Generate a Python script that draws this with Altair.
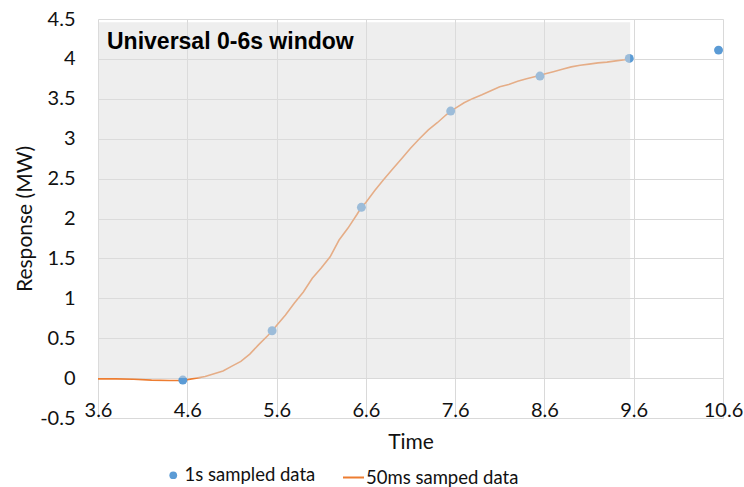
import altair as alt
import pandas as pd

# 1 s sampled points
sec_time = [4.55, 5.55, 6.55, 7.55, 8.55, 9.55, 10.55]
sec_resp = [-0.025, 0.593, 2.14, 3.346, 3.785, 4.006, 4.11]

# 50 ms sampled curve
ms_time = [3.6, 3.8, 4.0, 4.2, 4.4, 4.55, 4.7, 4.8, 4.9, 5.0, 5.1, 5.2, 5.3, 5.4,
           5.5, 5.55, 5.6, 5.7, 5.8, 5.9, 6.0, 6.1, 6.2, 6.3, 6.4, 6.5, 6.55, 6.6,
           6.7, 6.8, 6.9, 7.0, 7.1, 7.2, 7.3, 7.4, 7.5, 7.55, 7.6, 7.7, 7.8, 7.9,
           8.0, 8.1, 8.2, 8.3, 8.4, 8.5, 8.55, 8.6, 8.7, 8.8, 8.9, 9.0, 9.1, 9.2,
           9.3, 9.4, 9.5, 9.55]
ms_resp = [-0.01, -0.01, -0.015, -0.025, -0.03, -0.03, 0.0, 0.02, 0.055, 0.09, 0.15,
           0.21, 0.30, 0.42, 0.53, 0.59, 0.66, 0.79, 0.94, 1.08, 1.25, 1.38, 1.52,
           1.73, 1.88, 2.05, 2.14, 2.20, 2.35, 2.49, 2.62, 2.75, 2.88, 3.00, 3.11,
           3.20, 3.30, 3.346, 3.38, 3.45, 3.505, 3.55, 3.60, 3.65, 3.68, 3.72, 3.75,
           3.78, 3.79, 3.81, 3.84, 3.87, 3.90, 3.92, 3.935, 3.95, 3.96, 3.975, 3.99,
           4.0]

# shaded window
window_start = [3.6]
window_end = [9.56]
window_low = [0.0]
window_high = [4.46]

x_ticks = [3.6, 4.6, 5.6, 6.6, 7.6, 8.6, 9.6, 10.6]
y_ticks = [-0.5, 0, 0.5, 1, 1.5, 2, 2.5, 3, 3.5, 4, 4.5]

series_points = "1s sampled data"
series_line = "50ms samped data"
title_text = "Universal 0-6s window"

pts = pd.DataFrame({"t": sec_time, "r": sec_resp, "s": series_points})
crv = pd.DataFrame({"t": ms_time, "r": ms_resp, "s": series_line})
win = pd.DataFrame({"x": window_start, "x2": window_end, "y": window_low, "y2": window_high})

FONT = "Lato"
TXT = "#111111"

x_enc = alt.X(
    "t:Q",
    scale=alt.Scale(domain=[3.6, 10.6], nice=False, zero=False),
    axis=alt.Axis(
        values=x_ticks, tickCount=20, title="Time", grid=True, domain=False, ticks=False,
        labelPadding=-2, labelBaseline="alphabetic", labelFontSize=20,
        labelFont=FONT, labelColor=TXT, titleFont=FONT, titleFontSize=21,
        titleFontWeight="normal", titleColor=TXT, titleY=30,
        titleBaseline="alphabetic", labelExpr="'' + datum.value",
        gridColor="#D9D9D9", labelOverlap=False, labelFlush=False,
    ),
)
y_enc = alt.Y(
    "r:Q",
    scale=alt.Scale(domain=[-0.5, 4.5], nice=False, zero=False),
    axis=alt.Axis(
        values=y_ticks, tickCount=20, title="Response (MW)", grid=True, domain=False,
        ticks=False, labelPadding=23, labelFontSize=20, labelFont=FONT, labelColor=TXT,
        titleFont=FONT, titleFontSize=21, titleFontWeight="normal", titleColor=TXT,
        titleAngle=270, titleX=-73, titleY=199.5, titleBaseline="middle",
        titleAlign="center", labelExpr="'' + datum.value",
        gridColor="#D9D9D9", labelOverlap=False, labelFlush=False,
    ),
)

line = alt.Chart(crv).mark_line(strokeWidth=1.6).encode(
    x=x_enc, y=y_enc,
    color=alt.Color(
        "s:N",
        scale=alt.Scale(domain=[series_line], range=["#ED7D31"]),
        legend=alt.Legend(
            title=None, orient="none", legendX=244, legendY=447, padding=0,
            symbolType="stroke", symbolSize=441, symbolStrokeWidth=2,
            labelFontSize=18.5, labelFont=FONT, labelColor=TXT, labelOffset=1,
        ),
    ),
)

points = alt.Chart(pts).mark_circle(size=80, opacity=1).encode(
    x="t:Q", y="r:Q",
    fill=alt.Fill(
        "s:N",
        scale=alt.Scale(domain=[series_points], range=["#5B9BD5"]),
        legend=alt.Legend(
            title=None, orient="none", legendX=66, legendY=447, padding=0,
            symbolType="circle", symbolSize=60, symbolOpacity=1,
            labelFontSize=18.5, labelFont=FONT, labelColor=TXT, labelOffset=2,
        ),
    ),
)

shade = alt.Chart(win).mark_rect(color="#DEDEDE", opacity=0.5).encode(
    x="x:Q", x2="x2:Q", y="y:Q", y2="y2:Q",
)

title = alt.Chart(pd.DataFrame({"label": [title_text]})).mark_text(
    font="Liberation Sans", fontSize=23, fontWeight="bold", color="#000000",
    align="left", baseline="alphabetic",
).encode(x=alt.value(9), y=alt.value(30), text="label:N")

chart = (
    alt.layer(line, points, shade, title)
    .resolve_scale(color="independent", fill="independent")
    .properties(
        width=625, height=399,
        autosize=alt.AutoSizeParams(type="none"),
        padding={"left": 98, "top": 19, "right": 21, "bottom": 69},
        background="white",
    )
    .configure_view(stroke=None)
)

chart.save("out.html", embed_options={"renderer": "svg", "actions": False})
